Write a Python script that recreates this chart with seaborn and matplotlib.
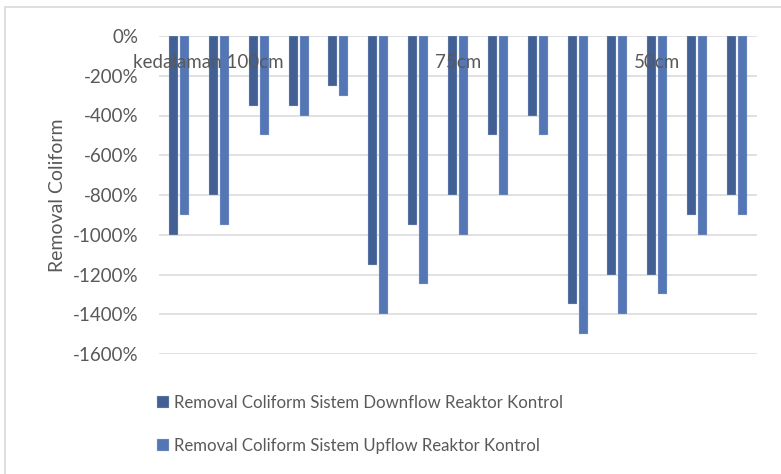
import matplotlib
matplotlib.use("Agg")
import matplotlib.pyplot as plt
import matplotlib.transforms as mtransforms
from matplotlib.patches import Rectangle
from matplotlib.ticker import FuncFormatter
import seaborn as sns
import pandas as pd

# Coliform removal (%) per sample, grouped by filter depth
sample = list(range(1, 16))
depth_labels = ["", "", "kedalaman 100cm", "", "",
                "", "", "75cm", "", "",
                "", "", "50cm", "", ""]
downflow = [-1000, -800, -350, -350, -250,
            -1150, -950, -800, -500, -400,
            -1350, -1200, -1200, -900, -800]
upflow = [-900, -950, -500, -400, -300,
          -1400, -1250, -1000, -800, -500,
          -1500, -1400, -1300, -1000, -900]
series_names = ["Removal Coliform Sistem Downflow Reaktor Kontrol",
                "Removal Coliform Sistem Upflow Reaktor Kontrol"]
y_ticks = [0, -200, -400, -600, -800, -1000, -1200, -1400, -1600]

df = pd.DataFrame({
    "sample": sample * 2,
    "removal": downflow + upflow,
    "series": [series_names[0]] * len(sample) + [series_names[1]] * len(sample),
})

sns.set_style("white")
plt.rcParams["font.family"] = ["Lato", "DejaVu Sans"]
text_grey = "#595959"
grid_grey = "#D9D9D9"

fig = plt.figure(figsize=(7.81, 4.74), dpi=100)
W, H = 781, 474
ax = fig.add_axes([159 / W, 1 - 354 / H, 598 / W, 318 / H])

sns.barplot(data=df, x="sample", y="removal", hue="series",
            palette=["#345DA0", "#4472C4"], width=0.55, gap=0.18,
            edgecolor="#B4C7E7", linewidth=0.25, ax=ax, errorbar=None)

ax.set_ylim(-1600, 0)
ax.set_yticks(y_ticks)
ax.yaxis.set_major_formatter(FuncFormatter(lambda v, p: f"{v:.0f}%"))
ax.tick_params(axis="y", length=0, pad=15, labelsize=13.5, labelcolor=text_grey)
ax.grid(axis="y", color=grid_grey, linewidth=1.1)
ax.set_axisbelow(True)
for s in ax.spines.values():
    s.set_visible(False)

# depth labels sit just under the zero line, drawn over the bars
ax.set_xticks([])
ax.set_xlabel("")
label_tf = mtransforms.blended_transform_factory(ax.transData, ax.transAxes)
for i, txt in enumerate(depth_labels):
    if not txt:
        continue
    t = ax.text(i, 1 - 26 / 318, txt, transform=label_tf, ha="center", va="center",
                fontsize=13.5, color=text_grey, zorder=10)
    if i == 2:
        t.set_transform(label_tf + mtransforms.ScaledTranslation(-50 / 100, 0, fig.dpi_scale_trans))

ax.set_ylabel("Removal Coliform", fontsize=14, color=text_grey, labelpad=5)

handles, labels = ax.get_legend_handles_labels()
ax.get_legend().remove()
fig.legend(handles, labels, loc="upper left", bbox_to_anchor=(142 / W, 1 - 380 / H),
           frameon=False, fontsize=12.1, labelcolor=text_grey, ncol=1,
           handlelength=0.72, handleheight=0.72, handletextpad=0.28, labelspacing=1.6)

# chart frame
fig.patches.append(Rectangle((5 / W, -0.05), 1.05, 1 - 7 / H + 0.05,
                             transform=fig.transFigure, fill=False,
                             edgecolor="#D9D9D9", linewidth=1.2))

fig.savefig("out.png", dpi=100)
